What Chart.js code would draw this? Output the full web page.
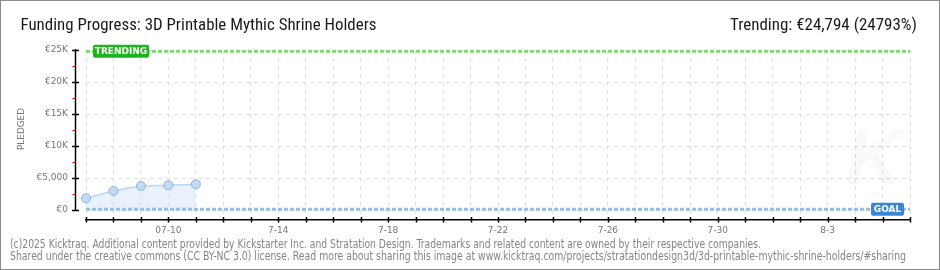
<!DOCTYPE html>
<html><head><meta charset="utf-8">
<script src="https://cdn.jsdelivr.net/npm/chart.js@4/dist/chart.umd.min.js"></script>
<style>
html,body{margin:0;padding:0;background:#fff;}
#wrap{position:relative;width:940px;height:270px;overflow:hidden;background:#fff;}
#c{position:absolute;left:0;top:0;}
#frame{position:absolute;left:0;top:0;width:938px;height:268px;border:1px solid #8a8a8a;pointer-events:none;}
svg{position:absolute;left:0;top:0;pointer-events:none;}
</style></head>
<body>
<div id="wrap">
<canvas id="c" width="940" height="270"></canvas>
<svg width="940" height="270" xmlns="http://www.w3.org/2000/svg">
  <text id="title" x="20.5" y="30" font-family="'Liberation Sans Narrow','Roboto Condensed','DejaVu Sans Condensed',sans-serif" font-size="16.5" fill="#1a1a1a" textLength="356" lengthAdjust="spacingAndGlyphs">Funding Progress: 3D Printable Mythic Shrine Holders</text>
  <text id="trend" x="730" y="30" font-family="'Liberation Sans Narrow','Roboto Condensed','DejaVu Sans Condensed',sans-serif" font-size="16.5" fill="#1a1a1a" textLength="187" lengthAdjust="spacingAndGlyphs">Trending: €24,794 (24793%)</text>
  <text x="0" y="0" transform="translate(24,129) rotate(-90)" text-anchor="middle" font-family="'DejaVu Sans',sans-serif" font-size="8" fill="#777" textLength="42" lengthAdjust="spacingAndGlyphs">PLEDGED</text>
  <text x="10" y="247.5" font-family="'Liberation Sans Narrow','DejaVu Sans Condensed',sans-serif" font-size="11.5" fill="#858585" textLength="751" lengthAdjust="spacingAndGlyphs">(c)2025 Kicktraq. Additional content provided by Kickstarter Inc. and Stratation Design. Trademarks and related content are owned by their respective companies.</text>
  <text x="10" y="260" font-family="'Liberation Sans Narrow','DejaVu Sans Condensed',sans-serif" font-size="11.5" fill="#858585" textLength="896" lengthAdjust="spacingAndGlyphs">Shared under the creative commons (CC BY-NC 3.0) license. Read more about sharing this image at www.kicktraq.com/projects/stratationdesign3d/3d-printable-mythic-shrine-holders/#sharing</text>
</svg>
<div id="frame"></div>
</div>
<script>
// ---- data ----
const dates = ['7-7','7-8','7-9','7-10','7-11','7-12','7-13','7-14','7-15','7-16','7-17','7-18','7-19','7-20','7-21','7-22','7-23','7-24','7-25','7-26','7-27','7-28','7-29','7-30','7-31','8-1','8-2','8-3','8-4','8-5','8-6'];
const labeledDates = ['7-10','7-14','7-18','7-22','7-26','7-30','8-3'];
const labeledText  = ['07-10','7-14','7-18','7-22','7-26','7-30','8-3'];
const pledgedDates = ['7-7','7-8','7-9','7-10','7-11'];
const pledged      = [1830, 2970, 3750, 3860, 4020];
const yTicks       = [0, 5000, 10000, 15000, 20000, 25000];
const yTickLabels  = ['€0','€5,000','€10K','€15K','€20K','€25K'];
const yMinorTicks  = [2500, 7500, 12500, 17500, 22500];
const goalValue = 100;
const trendingValue = 24794;

const chartTop = 50, zeroY = 210, axisY = 220;
const yMax = 25000;
const yMin = -(axisY - zeroY) / (zeroY - chartTop) * yMax;

const decor = {
  id: 'decor',
  beforeDatasetsDraw(chart) {
    const ctx = chart.ctx;
    ctx.save();
    ctx.font = 'italic bold 78px "Liberation Sans", sans-serif';
    ctx.fillStyle = 'rgba(0,0,0,0.025)';
    ctx.textAlign = 'center';
    ctx.textBaseline = 'middle';
    ctx.fillText('K', 874, 162);
    ctx.restore();
  },
  afterDraw(chart) {
    const ctx = chart.ctx, y = chart.scales.y, x = chart.scales.x;
    ctx.save();
    const ax = 75.5;
    ctx.strokeStyle = '#000'; ctx.lineWidth = 1.5;
    ctx.beginPath(); ctx.moveTo(ax, y.getPixelForValue(yMax) - 1); ctx.lineTo(ax, y.getPixelForValue(0) + 1); ctx.stroke();
    yTicks.forEach(v => { const py = Math.round(y.getPixelForValue(v)) + 0.5; ctx.beginPath(); ctx.moveTo(72, py); ctx.lineTo(79, py); ctx.stroke(); });
    ctx.strokeStyle = '#e00000'; ctx.lineWidth = 1;
    yMinorTicks.forEach(v => { const py = Math.round(y.getPixelForValue(v)) + 0.5; ctx.beginPath(); ctx.moveTo(72.5, py); ctx.lineTo(75.5, py); ctx.stroke(); });
    ctx.strokeStyle = '#000'; ctx.lineWidth = 1.5;
    dates.forEach(d => { const px = Math.round(x.getPixelForValue(d)) + 0.5; ctx.beginPath(); ctx.moveTo(px, axisY - 3); ctx.lineTo(px, axisY + 2.5); ctx.stroke(); });
    function tag(text, x0, w, cy, color) {
      const h = 13;
      ctx.fillStyle = color;
      ctx.beginPath();
      ctx.roundRect(x0, cy - h / 2, w, h, 2);
      ctx.fill();
      ctx.fillStyle = '#fff';
      ctx.font = 'bold 9px "DejaVu Sans", sans-serif';
      ctx.textAlign = 'center';
      ctx.textBaseline = 'middle';
      ctx.fillText(text, x0 + w / 2, cy + 0.5);
    }
    tag('TRENDING', 93, 56, y.getPixelForValue(trendingValue), '#1db51d');
    tag('GOAL', 871, 33, y.getPixelForValue(goalValue), '#3a87d8');
    ctx.restore();
  }
};

new Chart(document.getElementById('c'), {
  type: 'line',
  data: {
    labels: dates,
    datasets: [
      {
        label: 'Goal',
        data: [{x: dates[0], y: goalValue}, {x: dates[dates.length - 1], y: goalValue}],
        borderColor: '#93c0ea', borderWidth: 3, borderDash: [4, 2],
        pointRadius: 0, fill: false, order: 1
      },
      {
        label: 'Trending',
        data: [{x: dates[0], y: trendingValue}, {x: dates[dates.length - 1], y: trendingValue}],
        borderColor: '#7cd96d', borderWidth: 3, borderDash: [4, 2],
        pointRadius: 0, fill: false, order: 1
      },
      {
        label: 'Pledged',
        data: pledgedDates.map((d, i) => ({x: d, y: pledged[i]})),
        borderColor: '#b9d5f3', borderWidth: 1.5,
        backgroundColor: 'rgba(205,225,248,0.45)',
        fill: 'origin', tension: 0.3,
        pointRadius: 4.5, pointBackgroundColor: '#c4dbf5', pointBorderColor: '#8fb2db', pointBorderWidth: 1,
        order: 2
      }
    ]
  },
  options: {
    responsive: false, animation: false,
    layout: { padding: { left: 0, right: 30, top: chartTop, bottom: 0 } },
    plugins: { legend: { display: false }, tooltip: { enabled: false } },
    scales: {
      x: {
        type: 'category', offset: false,
        afterFit(s) { s.height = 270 - axisY; },
        grid: { color: '#e0e0e0', lineWidth: 1, drawTicks: false },
        border: { display: true, color: '#000', width: 1.5, dash: [4, 4] },
        ticks: {
          autoSkip: false, maxRotation: 0, padding: 5,
          color: '#777', font: { family: '"DejaVu Sans", sans-serif', size: 9 },
          callback(v, i) { const k = labeledDates.indexOf(dates[i]); return k >= 0 ? labeledText[k] : ''; }
        }
      },
      y: {
        min: yMin, max: yMax,
        afterFit(s) { s.width = 86; },
        afterBuildTicks(s) { s.ticks = yTicks.map(v => ({value: v})); },
        grid: { color: '#e0e0e0', lineWidth: 1, drawTicks: false },
        border: { display: false, dash: [4, 4] },
        ticks: {
          padding: 18, color: '#777', font: { family: '"DejaVu Sans", sans-serif', size: 9 },
          callback(v) { const k = yTicks.indexOf(v); return k >= 0 ? yTickLabels[k] : ''; }
        }
      }
    }
  },
  plugins: [decor]
});
</script>
</body></html>
